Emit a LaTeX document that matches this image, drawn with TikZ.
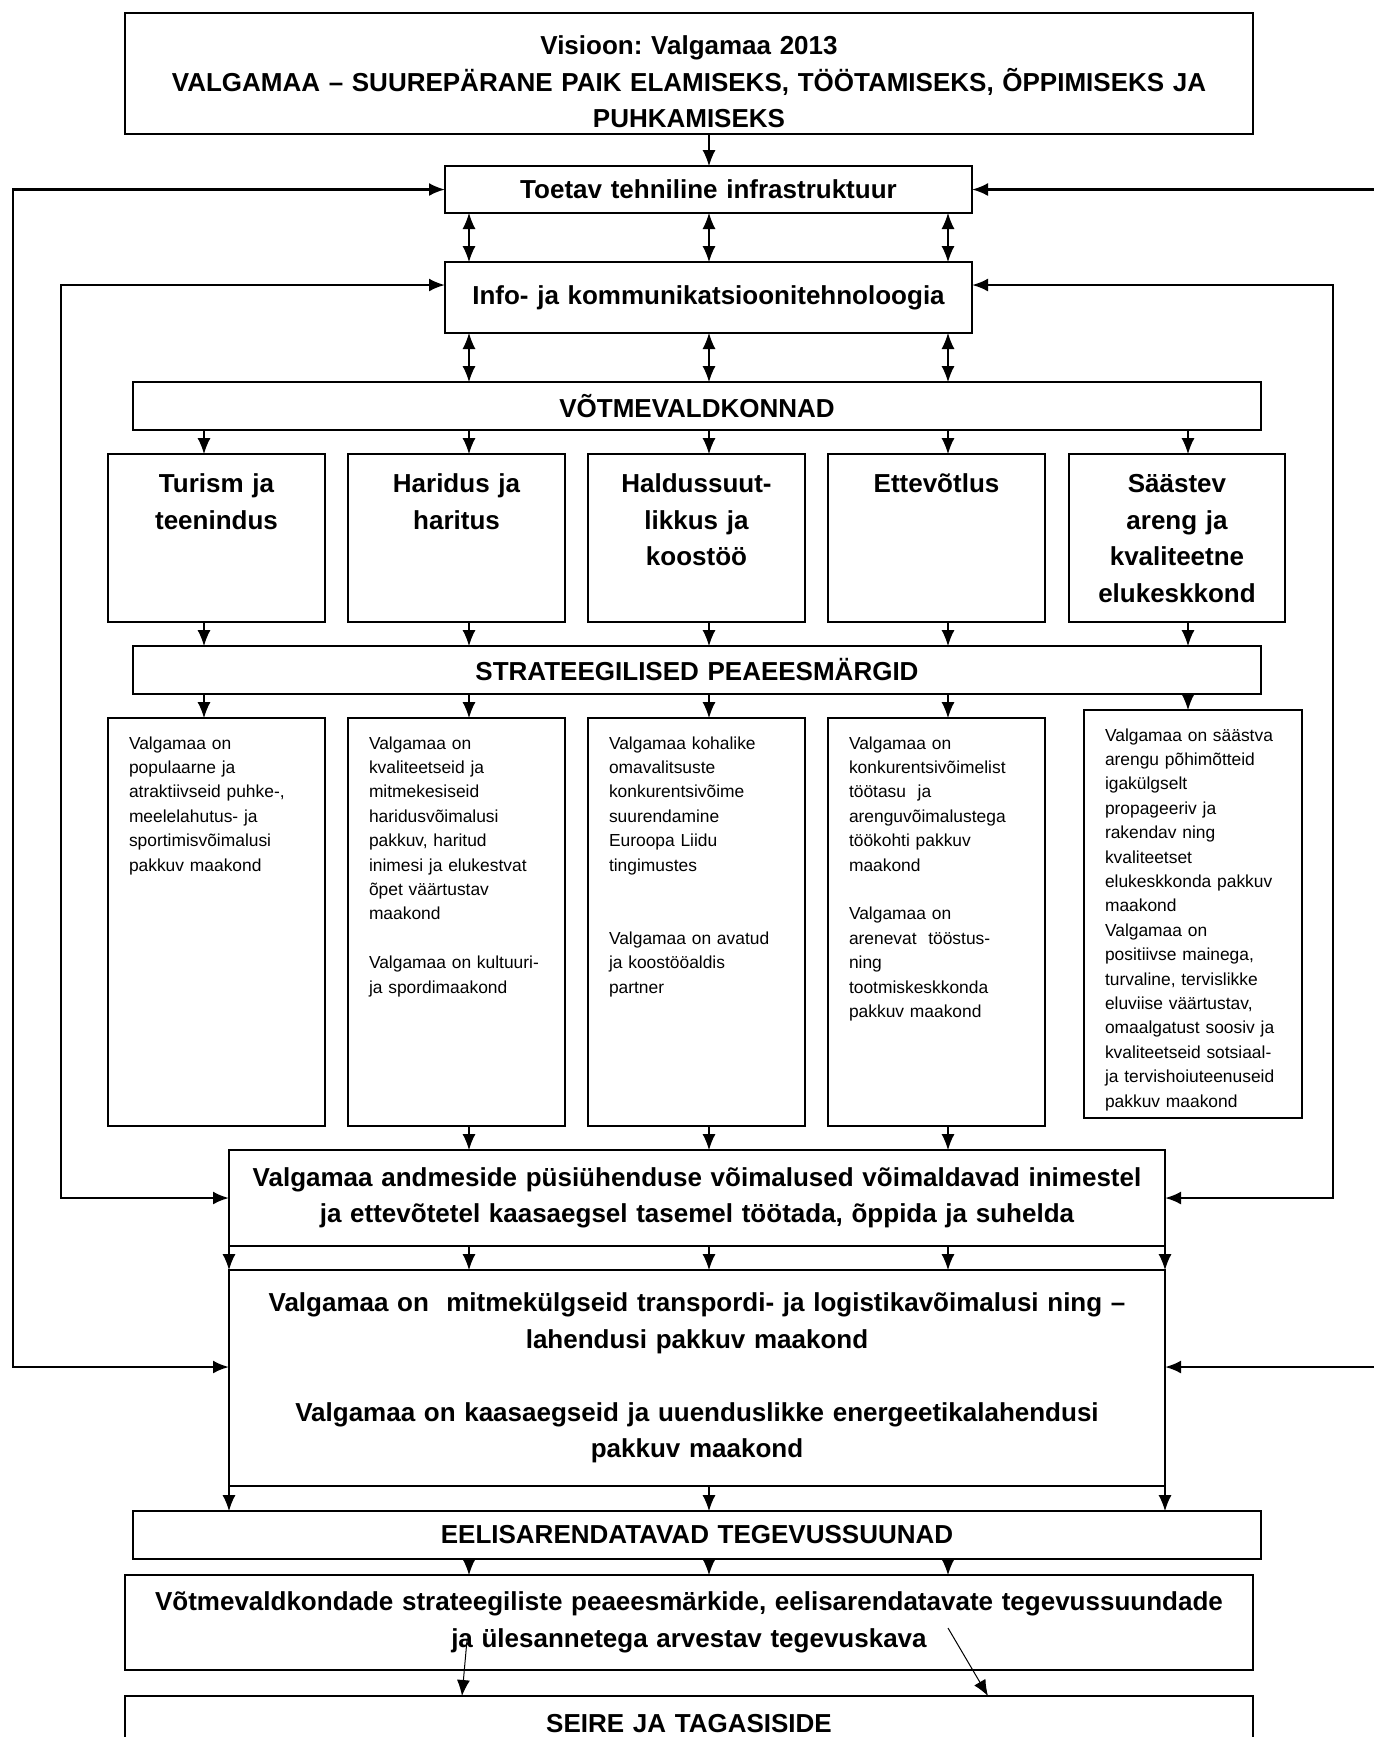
\documentclass[tikz,border=0pt]{standalone}
\usepackage{fontspec}
\setmainfont{Liberation Sans}
\usetikzlibrary{arrows.meta,positioning}
\frenchspacing
\newcommand\boxfont{\fontsize{13}{18.25}\selectfont\bfseries}
\newcommand\goalfont{\fontsize{8.7}{12.2}\selectfont}

\begin{document}
\begin{tikzpicture}[x=0.5pt, y=-0.5pt,
	box/.style={draw, line width=0.9pt, outer sep=0pt, inner xsep=4pt, inner ysep=0pt, font=\boxfont, align=center, anchor=north west},
	area/.style={box, text width=100.5pt, text height=19.25pt, text depth=64.75pt},
	goal/.style={draw, line width=0.9pt, outer sep=0pt, inner xsep=10.5pt, inner ysep=0pt, font=\goalfont, align=left, anchor=north west, text width=87.5pt, text height=15.5pt, text depth=188.5pt},
	arr/.style={-{Latex[length=8pt,width=6.5pt]}, line width=0.6pt},
	both/.style={{Latex[length=8pt,width=6.5pt]}-{Latex[length=8pt,width=6.5pt]}, line width=0.6pt},
	fb/.style={both, line width=1.2pt}]
	\useasboundingbox (0,0) rectangle (1373,1737);
	
	\node[box, text width=556pt, text height=20.75pt, text depth=39.75pt] (vis) at (125,13) {Visioon: Valgamaa 2013\\VALGAMAA – SUUREPÄRANE PAIK ELAMISEKS, TÖÖTAMISEKS, ÕPPIMISEKS JA\\PUHKAMISEKS};
	\node[box, text width=255.5pt, minimum height=23.5pt] (infra) at (445,166) {Toetav tehniline infrastruktuur};
	\node[box, text width=255.5pt, minimum height=35.5pt] (ikt) at (445,262) {Info- ja kommunikatsioonitehnoloogia};
	\node[box, text width=556pt, minimum height=24pt] (vv) at (133,382) {VÕTMEVALDKONNAD};
	
	\node[area] (a1) at (108,454) {Turism ja\\teenindus};
	\node[area] (a2) at (348,454) {Haridus ja\\haritus};
	\node[area] (a3) at (588,454) {Haldussuut-\\likkus ja\\koostöö};
	\node[area] (a4) at (828,454) {Ettevõtlus};
	\node[area, text width=100pt] (a5) at (1069,454) {Säästev\\areng ja\\kvaliteetne\\elukeskkond};
	
	\node[box, text width=556pt, minimum height=24pt] (sp) at (133,646) {STRATEEGILISED PEAEESMÄRGID};
	
	\node[goal] (g1) at (108,718) {Valgamaa on\\populaarne ja\\atraktiivseid puhke-,\\meelelahutus- ja\\sportimisvõimalusi\\pakkuv maakond};
	\node[goal] (g2) at (348,718) {Valgamaa on\\kvaliteetseid ja\\mitmekesiseid\\haridusvõimalusi\\pakkuv, haritud\\inimesi ja elukestvat\\õpet väärtustav\\maakond\\[12.2pt]Valgamaa on kultuuri-\\ja spordimaakond};
	\node[goal] (g3) at (588,718) {Valgamaa kohalike\\omavalitsuste\\konkurentsivõime\\suurendamine\\Euroopa Liidu\\tingimustes\\[24.4pt]Valgamaa on avatud\\ja koostööaldis\\partner};
	\node[goal] (g4) at (828,718) {Valgamaa on\\konkurentsivõimelist\\töötasu\ \ ja\\arenguvõimalustega\\töökohti pakkuv\\maakond\\[12.2pt]Valgamaa on\\arenevat\ \ tööstus-\\ning\\tootmiskeskkonda\\pakkuv maakond};
	\node[goal, text width=88pt] (g5) at (1084,710) {Valgamaa on säästva\\arengu põhimõtteid\\igakülgselt\\propageeriv ja\\rakendav ning\\kvaliteetset\\elukeskkonda pakkuv\\maakond\\Valgamaa on\\positiivse mainega,\\turvaline, tervislikke\\eluviise väärtustav,\\omaalgatust soosiv ja\\kvaliteetseid sotsiaal-\\ja tervishoiuteenuseid\\pakkuv maakond};
	
	\node[box, text width=460pt, minimum height=48pt] (andm) at (229,1150) {Valgamaa andmeside püsiühenduse võimalused võimaldavad inimestel\\ja ettevõtetel kaasaegsel tasemel töötada, õppida ja suhelda};
	\node[box, line width=0.6pt, text width=460pt, minimum height=108pt] (trans) at (229,1270) {Valgamaa on\ \ mitmekülgseid transpordi- ja logistikavõimalusi ning –\\lahendusi pakkuv maakond\\[18.25pt]Valgamaa on kaasaegseid ja uuenduslikke energeetikalahendusi\\pakkuv maakond};
	\node[box, text width=556pt, minimum height=24pt] (eel) at (133,1511) {EELISARENDATAVAD TEGEVUSSUUNAD};
	\node[box, text width=556pt, minimum height=47.5pt] (kava) at (125,1575) {Võtmevaldkondade strateegiliste peaeesmärkide, eelisarendatavate tegevussuundade\\ja ülesannetega arvestav tegevuskava};
	\node[box, text width=556pt, text height=18pt, text depth=14pt] (seire) at (125,1696) {SEIRE JA TAGASISIDE};
	
	\coordinate (c1) at (204,0);
	\coordinate (c2) at (469,0);
	\coordinate (c3) at (709,0);
	\coordinate (c4) at (948,0);
	\coordinate (c5) at (1188,0);
	\coordinate (oL) at (13,1367);
	\coordinate (oR) at (1376,1367);
	\coordinate (iT) at (61,285);
	\coordinate (iL) at (61,1198);
	\coordinate (iR) at (1333,1198);
	\coordinate (s1) at (467,1640);
	\coordinate (t1) at (462,1696);
	\coordinate (s2) at (948,1628);
	\coordinate (t2) at (988,1696);
	
	\path[arr]
	(vis.south -| c3) edge (infra.north -| c3);
	\path[both]
	(infra.south -| c2) edge (ikt.north -| c2)
	(infra.south -| c3) edge (ikt.north -| c3)
	(infra.south -| c4) edge (ikt.north -| c4)
	(ikt.south -| c2) edge (vv.north -| c2)
	(ikt.south -| c3) edge (vv.north -| c3)
	(ikt.south -| c4) edge (vv.north -| c4);
	\path[arr]
	(vv.south -| c1) edge (a1.north -| c1)
	(vv.south -| c2) edge (a2.north -| c2)
	(vv.south -| c3) edge (a3.north -| c3)
	(vv.south -| c4) edge (a4.north -| c4)
	(vv.south -| c5) edge (a5.north -| c5)
	(a1.south -| c1) edge (sp.north -| c1)
	(a2.south -| c2) edge (sp.north -| c2)
	(a3.south -| c3) edge (sp.north -| c3)
	(a4.south -| c4) edge (sp.north -| c4)
	(a5.south -| c5) edge (sp.north -| c5)
	(sp.south -| c1) edge (g1.north -| c1)
	(sp.south -| c2) edge (g2.north -| c2)
	(sp.south -| c3) edge (g3.north -| c3)
	(sp.south -| c4) edge (g4.north -| c4)
	(sp.south -| c5) edge (g5.north -| c5)
	(g2.south -| c2) edge (andm.north -| c2)
	(g3.south -| c3) edge (andm.north -| c3)
	(g4.south -| c4) edge (andm.north -| c4)
	(andm.south west) edge (trans.north west)
	(andm.south -| c2) edge (trans.north -| c2)
	(andm.south -| c3) edge (trans.north -| c3)
	(andm.south -| c4) edge (trans.north -| c4)
	(andm.south east) edge (trans.north east)
	(trans.south west) edge (eel.north -| trans.west)
	(trans.south -| c3) edge (eel.north -| c3)
	(trans.south east) edge (eel.north -| trans.east)
	(eel.south -| c2) edge (kava.north -| c2)
	(eel.south -| c3) edge (kava.north -| c3)
	(eel.south -| c4) edge (kava.north -| c4);
	\path[arr, line width=0.5pt]
	(s1) edge (t1)
	(s2) edge (t2);
	
	\draw[fb] (infra.west) -| (oL) -- (trans.west |- oL);
	\draw[fb] (infra.east) -| (oR) -- (trans.east |- oR);
	\draw[fb] (ikt.west |- iT) -| (iL) -- (andm.west);
	\draw[fb] (ikt.east |- iT) -| (iR) -- (andm.east);
\end{tikzpicture}
\end{document}
